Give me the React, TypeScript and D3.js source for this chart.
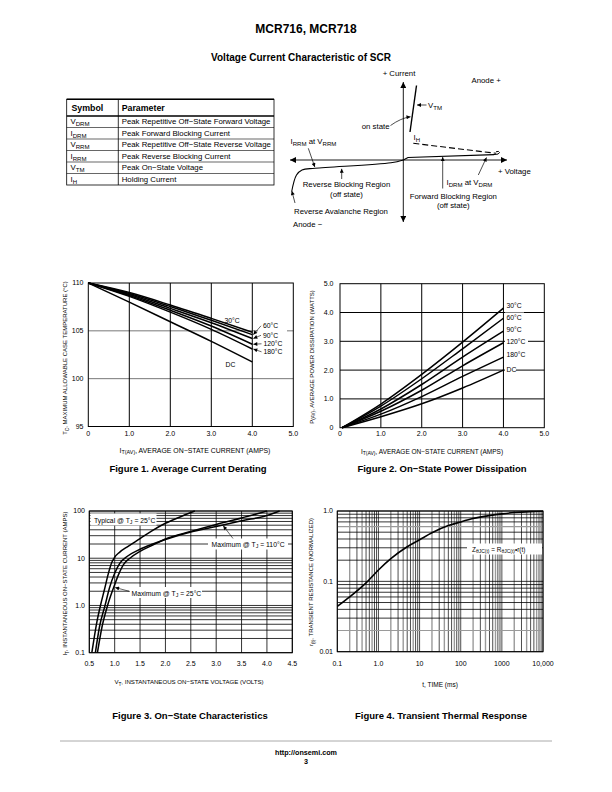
import React from "react";
import * as d3 from "d3";

const FONT = "'Liberation Sans', Arial, Helvetica, sans-serif";

// ---------------- Table data ----------------
const tableSymbolMain = ["V", "I", "V", "I", "V", "I"];
const tableSymbolSub = ["DRM", "DRM", "RRM", "RRM", "TM", "H"];
const tableParameters = [
  "Peak Repetitive Off−State Forward Voltage",
  "Peak Forward Blocking Current",
  "Peak Repetitive Off−State Reverse Voltage",
  "Peak Reverse Blocking Current",
  "Peak On−State Voltage",
  "Holding Current",
];

// ---------------- Figure 1 data ----------------
const fig1Current = [0, 1, 2, 3, 4];
const fig1Labels = ["30°C", "60°C", "90°C", "120°C", "180°C", "DC"];
const fig1T30 = [110, 109.0, 107.7, 106.3, 104.85];
const fig1T60 = [110, 108.9, 107.55, 106.1, 104.6];
const fig1T90 = [110, 108.8, 107.35, 105.85, 104.2];
const fig1T120 = [110, 108.7, 107.15, 105.5, 103.6];
const fig1T180 = [110, 108.6, 106.95, 105.15, 103.1];
const fig1TDC = [110, 108.0, 105.95, 103.9, 101.75];
const fig1XTicks = [0, 1, 2, 3, 4, 5];
const fig1XTickLabels = ["0", "1.0", "2.0", "3.0", "4.0", "5.0"];
const fig1YTicks = [95, 100, 105, 110];

// ---------------- Figure 2 data ----------------
const fig2Current = [0.05, 1, 2, 3, 4];
const fig2Labels = ["30°C", "60°C", "90°C", "120°C", "180°C", "DC"];
const fig2P30 = [0, 0.82, 1.85, 2.97, 4.15];
const fig2P60 = [0, 0.75, 1.7, 2.74, 3.8];
const fig2P90 = [0, 0.65, 1.5, 2.45, 3.35];
const fig2P120 = [0, 0.57, 1.3, 2.15, 2.95];
const fig2P180 = [0, 0.47, 1.08, 1.78, 2.45];
const fig2PDC = [0, 0.38, 0.83, 1.38, 2.0];
const fig2Ticks = [0, 1, 2, 3, 4, 5];
const fig2TickLabels = ["0", "1.0", "2.0", "3.0", "4.0", "5.0"];

// ---------------- Figure 3 data ----------------
const fig3TypV = [0.55, 0.6, 0.65, 0.72, 0.8, 0.87, 0.94, 1.0, 1.1, 1.25, 1.5, 1.75, 2.0, 2.25, 2.58];
const fig3TypI = [0.1, 0.22, 0.45, 1.0, 2.2, 4.5, 8, 10.5, 13.5, 17.5, 26, 39, 55, 72, 100];
const fig3Max110V = [0.62, 0.7, 0.81, 0.9, 1.0, 1.1, 1.25, 1.5, 1.75, 2.0, 2.5, 3.0, 3.5, 4.0, 4.25];
const fig3Max110I = [0.1, 0.35, 1.0, 2.4, 4.8, 7.8, 11, 15.5, 20, 25, 36, 47, 62, 80, 100];
const fig3Max25V = [0.66, 0.75, 0.86, 0.98, 1.08, 1.18, 1.3, 1.5, 1.75, 2.0, 2.5, 3.0, 3.5, 4.0];
const fig3Max25I = [0.1, 0.35, 1.0, 2.4, 4.6, 7.5, 10, 14, 19, 25.5, 37, 52, 71, 100];
const fig3XTicks = [0.5, 1.0, 1.5, 2.0, 2.5, 3.0, 3.5, 4.0, 4.5];
const fig3XTickLabels = ["0.5", "1.0", "1.5", "2.0", "2.5", "3.0", "3.5", "4.0", "4.5"];
const fig3YTicks = [0.1, 1, 10, 100];
const fig3YTickLabels = ["0.1", "1.0", "10", "100"];

// ---------------- Figure 4 data ----------------
const fig4Time = [0.1, 0.2, 0.5, 1, 2, 5, 10, 20, 50, 100, 200, 500, 1000, 2000, 5000, 10000];
const fig4R = [0.044, 0.06, 0.095, 0.145, 0.21, 0.31, 0.39, 0.49, 0.62, 0.7, 0.78, 0.86, 0.91, 0.95, 0.98, 0.99];
const fig4XTicks = [0.1, 1, 10, 100, 1000, 10000];
const fig4XTickLabels = ["0.1", "1.0", "10", "100", "1000", "10,000"];
const fig4YTicks = [0.01, 0.1, 1];
const fig4YTickLabels = ["0.01", "0.1", "1.0"];

// ---------------- helpers ----------------
type Part = [string, boolean];
function SubText(props: {
  x: number; y: number; parts: Part[]; size: number; anchor?: string;
  weight?: string | number; rotate?: boolean; fill?: string;
}) {
  const { x, y, parts, size, anchor = "start", weight = "normal", rotate = false } = props;
  const shift = size * 0.28;
  let cur = false;
  return (
    <text
      x={x}
      y={y}
      fontSize={size}
      fontFamily={FONT}
      fontWeight={weight}
      textAnchor={anchor}
      fill={props.fill || "#000"}
      transform={rotate ? `rotate(-90, ${x}, ${y})` : undefined}
    >
      {parts.map(([t, sub], i) => {
        let dy = 0;
        if (sub && !cur) dy = shift;
        if (!sub && cur) dy = -shift;
        cur = sub;
        return (
          <tspan key={i} dy={dy} fontSize={sub ? size * 0.78 : size}>
            {t}
          </tspan>
        );
      })}
    </text>
  );
}

function T(props: any) {
  const { children, size = 7, anchor = "start", weight = "normal", ...rest } = props;
  return (
    <text fontFamily={FONT} fontSize={size} textAnchor={anchor} fontWeight={weight} {...rest}>
      {children}
    </text>
  );
}

function logGrid(lo: number, hi: number): number[] {
  const out: number[] = [];
  for (let d = lo; d < hi * 0.999; d *= 10) {
    for (let m = 1; m <= 9; m++) out.push(+(m * d).toPrecision(6));
  }
  out.push(hi);
  return out;
}

const TICK = 7;
const LBL = 6.8;
const CAP = 9.5;

// ---------------- Table ----------------
function SymbolTable() {
  const x0 = 66.7, x1 = 274, xc = 118.3;
  const yTop = 99.3, yHead = 116, rowH = 11.5;
  const rows = tableParameters.length;
  const yBot = yHead + rowH * rows;
  return (
    <g>
      <rect x={x0} y={yTop} width={x1 - x0} height={yBot - yTop} fill="none" stroke="#000" strokeWidth={0.8} />
      <line x1={x0} x2={x1} y1={yTop} y2={yTop} stroke="#000" strokeWidth={1.4} />
      <line x1={x0} x2={x1} y1={yHead} y2={yHead} stroke="#000" strokeWidth={1.4} />
      <line x1={xc} x2={xc} y1={yTop} y2={yBot} stroke="#000" strokeWidth={0.8} />
      {d3.range(1, rows).map((i) => (
        <line key={i} x1={x0} x2={x1} y1={yHead + rowH * i} y2={yHead + rowH * i} stroke="#000" strokeWidth={0.6} />
      ))}
      <T x={71.5} y={110.8} size={8.8} weight="bold">Symbol</T>
      <T x={121.7} y={110.8} size={8.8} weight="bold">Parameter</T>
      {tableParameters.map((p, i) => (
        <g key={i}>
          <SubText x={70.5} y={yHead + rowH * i + 8.2} size={7.8} parts={[[tableSymbolMain[i], false], [tableSymbolSub[i], true]]} />
          <T x={121.7} y={yHead + rowH * i + 8.2} size={7.8}>{p}</T>
        </g>
      ))}
    </g>
  );
}

// ---------------- SCR diagram ----------------
const scrHAxis = [[290, 160], [507, 160]];
const scrVAxis = [[403.3, 222], [403.3, 82]];
const scrOnState = [[410, 132], [416.5, 85.5]];
const scrDashed = [[413.3, 143.3], [496, 153.3]];
const scrForward = [[403.3, 160], [408, 157.5], [494, 154.6]];
const scrReverse = [[403.3, 160], [391, 162.8], [315, 168.3], [302, 170], [296.5, 175], [291.7, 191.5]];

function ScrDiagram() {
  const line = d3.line<number[]>().x((d) => d[0]).y((d) => d[1]);
  const smooth = d3.line<number[]>().x((d) => d[0]).y((d) => d[1]).curve(d3.curveCatmullRom);
  const arrows: number[][][] = [
    [[426.5, 105], [417, 105]],
    [[308.3, 148.3], [314.8, 167]],
    [[341.7, 179], [341.7, 168.8]],
    [[295, 203], [291.8, 191]],
    [[478.3, 175], [486.5, 157.5]],
    [[442.7, 188.5], [442.7, 157]],
  ];
  const S = 7.8;
  return (
    <g>
      <path d={line(scrHAxis as any) || ""} stroke="#000" strokeWidth={0.9} fill="none" markerStart="url(#axArr)" markerEnd="url(#axArr)" />
      <path d={line(scrVAxis as any) || ""} stroke="#000" strokeWidth={0.9} fill="none" markerStart="url(#axArr)" markerEnd="url(#axArr)" />
      <path d={line(scrOnState as any) || ""} stroke="#000" strokeWidth={1.4} fill="none" />
      <path d={line(scrDashed as any) || ""} stroke="#000" strokeWidth={1.1} fill="none" strokeDasharray="6,3" />
      <path d={line(scrForward as any) || ""} stroke="#000" strokeWidth={1.1} fill="none" />
      <path d="M494,154.6 Q499.5,154.5 499.5,152.5 Q499,150.6 496,151.8" stroke="#000" strokeWidth={1} fill="none" />
      <path d={smooth(scrReverse as any) || ""} stroke="#000" strokeWidth={1.1} fill="none" />
      {arrows.map((a, i) => (
        <path key={i} d={line(a as any) || ""} stroke="#000" strokeWidth={0.7} fill="none" markerEnd="url(#arr)" />
      ))}
      <path d="M390.5,125.5 Q401,118 410.5,116.8" stroke="#000" strokeWidth={0.7} fill="none" markerEnd="url(#arr)" />
      <T x={399} y={76} size={S} anchor="middle">+ Current</T>
      <T x={471.5} y={82.5} size={S}>Anode +</T>
      <SubText x={428} y={107.5} size={S} parts={[["V", false], ["TM", true]]} />
      <T x={389.5} y={128.5} size={S} anchor="end">on state</T>
      <SubText x={413.5} y={139.5} size={S} parts={[["I", false], ["H", true]]} />
      <SubText x={290.5} y={144} size={S} parts={[["I", false], ["RRM", true], [" at V", false], ["RRM", true]]} />
      <T x={498} y={173.5} size={S}>+ Voltage</T>
      <SubText x={446.5} y={185} size={S} parts={[["I", false], ["DRM", true], [" at V", false], ["DRM", true]]} />
      <T x={346.5} y={187} size={S} anchor="middle">Reverse Blocking Region</T>
      <T x={346.5} y={196.5} size={S} anchor="middle">(off state)</T>
      <T x={453.3} y={198.5} size={S} anchor="middle">Forward Blocking Region</T>
      <T x={453.3} y={208} size={S} anchor="middle">(off state)</T>
      <T x={341} y={214} size={S} anchor="middle">Reverse Avalanche Region</T>
      <T x={293} y={226.5} size={S}>Anode −</T>
    </g>
  );
}

// ---------------- Figure 1 ----------------
function Figure1() {
  const x = d3.scaleLinear().domain([0, 5]).range([88.3, 293.3]);
  const y = d3.scaleLinear().domain([95, 110]).range([426.5, 283]);
  const series = [fig1T30, fig1T60, fig1T90, fig1T120, fig1T180, fig1TDC];
  const line = d3
    .line<number>()
    .x((_, i) => x(fig1Current[i]))
    .y((d) => y(d))
    .curve(d3.curveMonotoneX);
  const endX = x(4);
  const labelPos = [
    [224.5, 322.5],
    [263, 328],
    [263, 337.5],
    [263.5, 346],
    [263.5, 354],
    [225.5, 367],
  ];
  return (
    <g>
      {[100, 105].map((v) => (
        <line key={v} x1={x(0)} x2={x(5)} y1={y(v)} y2={y(v)} stroke="#555" strokeWidth={0.8} />
      ))}
      {[1, 2, 3, 4].map((v) => (
        <line key={v} x1={x(v)} x2={x(v)} y1={y(95)} y2={y(110)} stroke="#000" strokeWidth={1} />
      ))}
      <rect x={x(0)} y={y(110)} width={x(5) - x(0)} height={y(95) - y(110)} fill="none" stroke="#000" strokeWidth={1} />
      <rect x={258} y={321} width={29} height={36} fill="#fff" />
      {series.map((s, i) => (
        <path key={i} d={line(s) || ""} fill="none" stroke="#000" strokeWidth={1.5} />
      ))}
      {[1, 2, 3, 4].map((k) => (
        <path
          key={k}
          d={`M${labelPos[k][0] - 2},${labelPos[k][1] - 2.2} L${endX + 1},${y(series[k][4])}`}
          stroke="#000"
          strokeWidth={0.6}
          fill="none"
          markerEnd="url(#arr)"
        />
      ))}
      {fig1Labels.map((l, i) => (
        <T key={l} x={labelPos[i][0]} y={labelPos[i][1]} size={LBL}>{l}</T>
      ))}
      {fig1YTicks.map((v) => (
        <T key={v} x={83.5} y={y(v) + 2.4} size={TICK} anchor="end">{v}</T>
      ))}
      {fig1XTicks.map((v, i) => (
        <T key={v} x={x(v)} y={436} size={TICK} anchor="middle">{fig1XTickLabels[i]}</T>
      ))}
      <SubText
        x={67}
        y={358}
        size={6}
        rotate
        anchor="middle"
        parts={[["T", false], ["C", true], [", MAXIMUM ALLOWABLE CASE TEMPERATURE (°C)", false]]}
      />
      <SubText
        x={195}
        y={452.5}
        size={6.9}
        anchor="middle"
        parts={[["I", false], ["T(AV)", true], [", AVERAGE ON−STATE CURRENT (AMPS)", false]]}
      />
      <T x={188} y={472} size={CAP} weight="bold" anchor="middle">Figure 1. Average Current Derating</T>
    </g>
  );
}

// ---------------- Figure 2 ----------------
function Figure2() {
  const x = d3.scaleLinear().domain([0, 5]).range([340, 544.3]);
  const y = d3.scaleLinear().domain([0, 5]).range([427.7, 283.7]);
  const series = [fig2P30, fig2P60, fig2P90, fig2P120, fig2P180, fig2PDC];
  const line = d3
    .line<number>()
    .x((_, i) => x(fig2Current[i]))
    .y((d) => y(d))
    .curve(d3.curveMonotoneX);
  const labelY = [306, 317.5, 330, 342, 355, 370];
  return (
    <g>
      {[1, 2, 3, 4].map((v) => (
        <g key={v}>
          <line x1={x(v)} x2={x(v)} y1={y(0)} y2={y(5)} stroke="#000" strokeWidth={1} />
          <line x1={x(0)} x2={x(5)} y1={y(v)} y2={y(v)} stroke="#000" strokeWidth={1} />
        </g>
      ))}
      <rect x={x(0)} y={y(5)} width={x(5) - x(0)} height={y(0) - y(5)} fill="none" stroke="#000" strokeWidth={1} />
      {series.map((s, i) => (
        <path key={i} d={line(s) || ""} fill="none" stroke="#000" strokeWidth={1.5} />
      ))}
      {fig2Labels.map((l, i) => (
        <g key={l}>
          <rect x={505} y={labelY[i] - 5} width={l.length * 4 + 3} height={7.5} fill="#fff" />
          <T x={506.5} y={labelY[i] + 2.4} size={LBL}>{l}</T>
        </g>
      ))}
      {fig2Ticks.map((v, i) => (
        <T key={"y" + v} x={333.5} y={y(v) + 2.4} size={TICK} anchor="end">{fig2TickLabels[i]}</T>
      ))}
      {fig2Ticks.map((v, i) => (
        <T key={"x" + v} x={x(v)} y={436} size={TICK} anchor="middle">{fig2TickLabels[i]}</T>
      ))}
      <SubText
        x={313.5}
        y={357}
        size={6}
        rotate
        anchor="middle"
        parts={[["P", false], ["(AV)", true], [", AVERAGE POWER DISSIPATION (WATTS)", false]]}
      />
      <SubText
        x={432}
        y={453.5}
        size={6.5}
        anchor="middle"
        parts={[["I", false], ["T(AV)", true], [", AVERAGE ON−STATE CURRENT (AMPS)", false]]}
      />
      <T x={442} y={472} size={CAP} weight="bold" anchor="middle">Figure 2. On−State Power Dissipation</T>
    </g>
  );
}

// ---------------- Figure 3 ----------------
function Figure3() {
  const x = d3.scaleLinear().domain([0.5, 4.5]).range([89.3, 292.3]);
  const y = d3.scaleLog().domain([0.1, 100]).range([652.7, 511]);
  const mk = (vs: number[], is: number[]) =>
    d3
      .line<number>()
      .x((d) => x(d))
      .y((_, i) => y(is[i]))
      .curve(d3.curveMonotoneX)(vs) || "";
  const hGrid = logGrid(0.1, 100);
  return (
    <g>
      {hGrid.map((v) => (
        <line key={v} x1={x(0.5)} x2={x(4.5)} y1={y(v)} y2={y(v)} stroke="#000" strokeWidth={0.8} />
      ))}
      {fig3XTicks.map((v) => (
        <line key={v} x1={x(v)} x2={x(v)} y1={y(0.1)} y2={y(100)} stroke="#000" strokeWidth={0.8} />
      ))}
      <rect x={x(0.5)} y={y(100)} width={x(4.5) - x(0.5)} height={y(0.1) - y(100)} fill="none" stroke="#000" strokeWidth={1} />
      <path d={mk(fig3TypV, fig3TypI)} fill="none" stroke="#000" strokeWidth={1.5} />
      <path d={mk(fig3Max110V, fig3Max110I)} fill="none" stroke="#000" strokeWidth={1.5} />
      <path d={mk(fig3Max25V, fig3Max25I)} fill="none" stroke="#000" strokeWidth={1.5} />
      <rect x={90.5} y={513.5} width={66} height={12} fill="#fff" />
      <SubText x={94} y={522.5} size={LBL} parts={[["Typical @ T", false], ["J", true], [" = 25°C", false]]} />
      <rect x={208} y={538.5} width={80} height={11} fill="#fff" />
      <SubText x={211.5} y={546.5} size={LBL} parts={[["Maximum @ T", false], ["J", true], [" = 110°C", false]]} />
      <path d={`M233,538.5 L${x(3.14)},${y(51) + 1}`} stroke="#000" strokeWidth={0.6} fill="none" markerEnd="url(#arr)" />
      <rect x={129} y={587} width={73} height={11} fill="#fff" />
      <SubText x={131.5} y={595.5} size={LBL} parts={[["Maximum @ T", false], ["J", true], [" = 25°C", false]]} />
      <path d={`M130,591.5 L${x(0.99) + 1},${y(2.4)}`} stroke="#000" strokeWidth={0.6} fill="none" markerEnd="url(#arr)" />
      {fig3YTicks.map((v, i) => (
        <T key={v} x={85} y={y(v) + 2.4} size={TICK} anchor="end">{fig3YTickLabels[i]}</T>
      ))}
      {fig3XTicks.map((v, i) => (
        <T key={v} x={x(v)} y={666} size={TICK} anchor="middle">{fig3XTickLabels[i]}</T>
      ))}
      <SubText
        x={67}
        y={583.5}
        size={6}
        rotate
        anchor="middle"
        parts={[["I", false], ["T", true], [", INSTANTANEOUS ON−STATE CURRENT (AMPS)", false]]}
      />
      <SubText
        x={189}
        y={684}
        size={6.1}
        anchor="middle"
        parts={[["V", false], ["T", true], [", INSTANTANEOUS ON−STATE VOLTAGE (VOLTS)", false]]}
      />
      <T x={190} y={719} size={CAP} weight="bold" anchor="middle">Figure 3. On−State Characteristics</T>
    </g>
  );
}

// ---------------- Figure 4 ----------------
function Figure4() {
  const x = d3.scaleLog().domain([0.1, 10000]).range([337.3, 543]);
  const y = d3.scaleLog().domain([0.01, 1]).range([651.7, 511]);
  const vGrid = logGrid(0.1, 10000);
  const hGrid = logGrid(0.01, 1);
  const grayV = (v: number) => {
    const m = Math.round(v / Math.pow(10, Math.floor(Math.log10(v) + 1e-9)));
    return m === 2 || m === 4 || m === 7;
  };
  const grayH = (v: number) => Math.abs(v - 0.6) < 1e-6 || Math.abs(v - 0.02) < 1e-6;
  const line = d3
    .line<number>()
    .x((_, i) => x(fig4Time[i]))
    .y((d) => y(d))
    .curve(d3.curveMonotoneX);
  return (
    <g>
      {vGrid.map((v) => (
        <line
          key={"v" + v}
          x1={x(v)}
          x2={x(v)}
          y1={y(0.01)}
          y2={y(1)}
          stroke={grayV(v) ? "#9a9a9a" : "#000"}
          strokeWidth={grayV(v) ? 1.4 : 0.7}
        />
      ))}
      {hGrid.map((v) => (
        <line
          key={"h" + v}
          x1={x(0.1)}
          x2={x(10000)}
          y1={y(v)}
          y2={y(v)}
          stroke={grayH(v) ? "#9a9a9a" : "#000"}
          strokeWidth={grayH(v) ? 1.2 : 0.8}
        />
      ))}
      <rect x={x(0.1)} y={y(1)} width={x(10000) - x(0.1)} height={y(0.01) - y(1)} fill="none" stroke="#000" strokeWidth={1} />
      <path d={line(fig4R) || ""} fill="none" stroke="#000" strokeWidth={1.6} />
      <rect x={467} y={543.5} width={75} height={11} fill="#fff" />
      <SubText
        x={472}
        y={551.5}
        size={6.4}
        parts={[["Z", false], ["θJC(t)", true], [" = R", false], ["θJC(t)", true], ["•r(t)", false]]}
      />
      {fig4YTicks.map((v, i) => (
        <T key={v} x={333} y={y(v) + 2.4} size={TICK} anchor="end">{fig4YTickLabels[i]}</T>
      ))}
      {fig4XTicks.map((v, i) => (
        <T key={v} x={x(v)} y={666} size={TICK} anchor="middle">{fig4XTickLabels[i]}</T>
      ))}
      <SubText
        x={313}
        y={582}
        size={6}
        rotate
        anchor="middle"
        parts={[["r", false], ["(t)", true], [", TRANSIENT RESISTANCE (NORMALIZED)", false]]}
      />
      <T x={440} y={686.5} size={6.5} anchor="middle">t, TIME (ms)</T>
      <T x={441} y={719} size={CAP} weight="bold" anchor="middle">Figure 4. Transient Thermal Response</T>
    </g>
  );
}

export default function App() {
  return (
    <svg
      width={612}
      height={792}
      viewBox="0 0 612 792"
      style={{ position: "absolute", left: 0, top: 0, background: "#fff" }}
    >
      <defs>
        <marker id="arr" viewBox="0 0 10 10" refX="10" refY="5" markerUnits="userSpaceOnUse" markerWidth="5" markerHeight="4" orient="auto">
          <path d="M0,0 L10,5 L0,10 z" fill="#000" />
        </marker>
        <marker id="axArr" viewBox="0 0 10 10" refX="10" refY="5" markerUnits="userSpaceOnUse" markerWidth="7" markerHeight="6" orient="auto-start-reverse">
          <path d="M0,0 L10,5 L0,10 z" fill="#000" />
        </marker>
      </defs>
      <rect x={0} y={0} width={612} height={792} fill="#fff" />
      <T x={306} y={33} size={12} weight="bold" anchor="middle">MCR716, MCR718</T>
      <T x={301} y={60.5} size={10} weight="bold" anchor="middle">Voltage Current Characteristic of SCR</T>
      <SymbolTable />
      <ScrDiagram />
      <Figure1 />
      <Figure2 />
      <Figure3 />
      <Figure4 />
      <line x1={60} x2={552} y1={741} y2={741} stroke="#aaa" strokeWidth={1} />
      <T x={306} y={754.5} size={7.2} weight="bold" anchor="middle">http://onsemi.com</T>
      <T x={306} y={764} size={7.2} weight="bold" anchor="middle">3</T>
    </svg>
  );
}
